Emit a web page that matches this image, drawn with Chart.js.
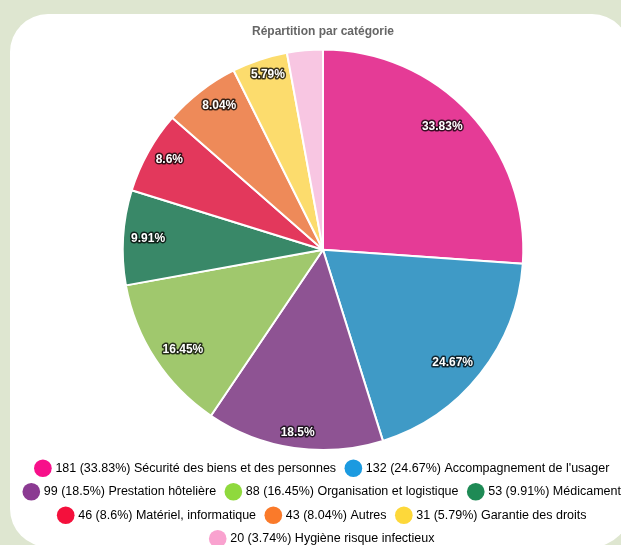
<!DOCTYPE html>
<html lang="fr">
  <head>
    <meta charset="UTF-8" />
    <title>Répartition par catégorie</title>
    <style>
      html, body { margin: 0; padding: 0; }
      body { width: 621px; height: 545px; overflow: hidden; background: #dee6d0; position: relative; }
      .card { position: absolute; left: 10px; top: 14px; width: 620px; height: 533px; background: #fff; border-radius: 38px; }
      .chart-view { position: absolute; left: 10px; top: 14px; width: 626px; height: 541px; }
    </style>
  </head>
  <body>
    <div class="card"></div>
    <div class="chart-view">
      <canvas id="chart"></canvas>
    </div>

    <script src="https://cdn.jsdelivr.net/npm/chart.js@4.4.0/dist/chart.umd.min.js"></script>
    <script>
      const labels = [
        'Sécurité des biens et des personnes',
        "Accompagnement de l'usager",
        'Prestation hôtelière',
        'Organisation et logistique',
        'Médicament',
        'Matériel, informatique',
        'Autres',
        'Garantie des droits',
        'Hygiène risque infectieux'
      ];
      const values = [181, 132, 99, 88, 53, 46, 43, 31, 20];
      const percents = ['33.83', '24.67', '18.5', '16.45', '9.91', '8.6', '8.04', '5.79', '3.74'];
      const sliceColors = ['#e53b96', '#3f9ac6', '#8e5393', '#a0c86d', '#398868', '#e3385c', '#ee8a59', '#fcdc6d', '#f8c6e2'];
      const legendColors = ['#f70f8a', '#1b9ae0', '#8b3a92', '#8fd93d', '#1e8a55', '#f4103c', '#fa7a2a', '#fdd83a', '#f9a2cf'];

      // labels inside the slices (anchor end / align start, like datalabels)
      const sliceLabels = {
        id: 'sliceLabels',
        afterDatasetsDraw(chart) {
          const ctx = chart.ctx;
          const meta = chart.getDatasetMeta(0);
          ctx.save();
          ctx.font = 'bold 12px "Liberation Sans", Arial, sans-serif';
          ctx.textAlign = 'center';
          ctx.textBaseline = 'middle';
          ctx.lineJoin = 'round';
          meta.data.forEach((arc, i) => {
            if (parseFloat(percents[i]) < 5) return; // too small, hidden
            const p = arc.getProps(['x', 'y', 'startAngle', 'endAngle', 'outerRadius'], true);
            const a = (p.startAngle + p.endAngle) / 2;
            const text = percents[i] + '%';
            const w = ctx.measureText(text).width + 8;
            const h = 12 * 1.2 + 8;
            const vx = -Math.cos(a), vy = -Math.sin(a);
            const vs = 1 / Math.max(Math.abs(vx), Math.abs(vy));
            const px = p.x + Math.cos(a) * p.outerRadius + (w / 2) * vx * vs + 4 * vx;
            const py = p.y + Math.sin(a) * p.outerRadius + (h / 2) * vy * vs + 4 * vy;
            ctx.strokeStyle = 'rgba(0,0,0,0.75)';
            ctx.lineWidth = 3;
            ctx.strokeText(text, px, py);
            ctx.fillStyle = '#fff';
            ctx.fillText(text, px, py);
          });
          ctx.restore();
        }
      };

      const data = {
        labels: labels,
        datasets: [
          {
            data: values,
            backgroundColor: sliceColors,
            borderColor: '#fff',
            borderWidth: 2
          }
        ]
      };

      const config = {
        type: 'pie',
        data: data,
        options: {
          responsive: true,
          maintainAspectRatio: false,
          animation: false,
          plugins: {
            title: {
              display: true,
              text: 'Répartition par catégorie',
              color: '#666',
              font: { family: '"Liberation Sans", Arial, sans-serif', size: 12, weight: 'bold' }
            },
            legend: {
              position: 'bottom',
              labels: {
                usePointStyle: true,
                pointStyle: 'circle',
                padding: 11,
                color: '#333',
                font: { family: '"Liberation Sans", Arial, sans-serif', size: 12.5 },
                generateLabels: () => labels.map((l, i) => ({
                  text: values[i] + ' (' + percents[i] + '%) ' + l,
                  fillStyle: legendColors[i],
                  strokeStyle: legendColors[i],
                  lineWidth: 0,
                  pointStyle: 'circle',
                  hidden: false,
                  index: i
                }))
              }
            },
            tooltip: { enabled: false }
          }
        },
        plugins: [sliceLabels]
      };

      const ctx = document.getElementById('chart');
      const chart = new Chart(ctx, config);
    </script>
  </body>
</html>
